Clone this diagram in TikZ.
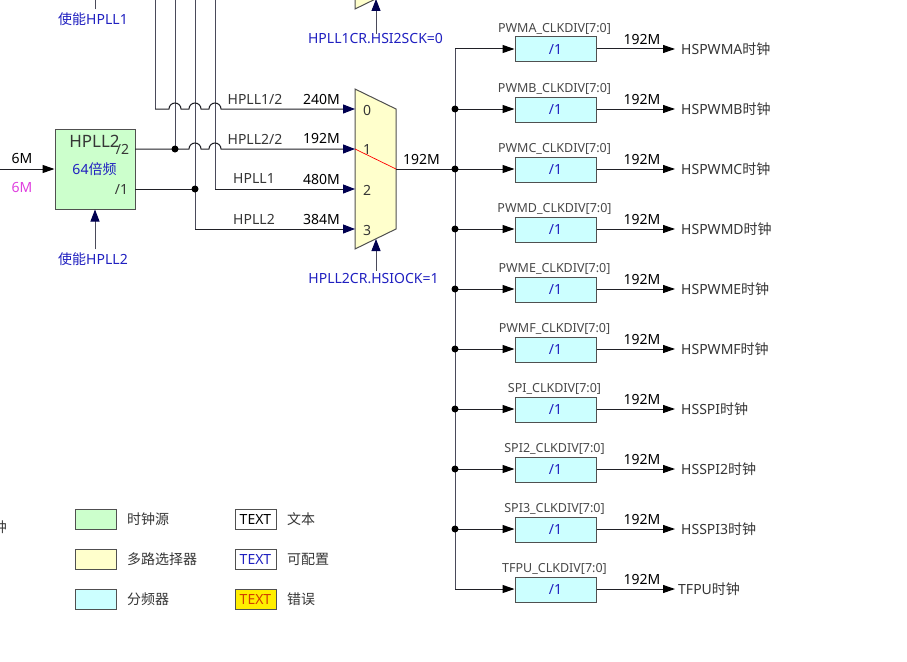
\documentclass[tikz,border=0pt]{standalone}
\usepackage{fontspec}
\setmainfont{Noto Sans}
\newfontfamily\cjk{Noto Sans CJK SC}
\newcommand{\zh}[1]{{\cjk #1}}
\usetikzlibrary{arrows.meta}
\definecolor{txtgray}{HTML}{363636}
\definecolor{lblgray}{HTML}{484848}
\definecolor{cfgblue}{HTML}{2020C0}
\definecolor{magc}{HTML}{E040E0}
\definecolor{navyc}{HTML}{000050}
\definecolor{wirec}{HTML}{202026}
\definecolor{vwirec}{HTML}{4A4A5A}
\definecolor{boxline}{HTML}{505050}
\definecolor{srcgreen}{HTML}{CCFFCC}
\definecolor{muxyellow}{HTML}{FFFFCC}
\definecolor{divcyan}{HTML}{CCFFFF}
\definecolor{erryellow}{HTML}{FFEE00}
\definecolor{errred}{HTML}{D04000}
\begin{document}
\begin{tikzpicture}[x=1pt,y=-1pt,
  wire/.style={draw=wirec,line width=1pt},
  vwire/.style={draw=vwirec,line width=1pt},
  tipN/.style={-{Triangle[length=12pt,width=9pt,color=navyc]}},
  tipK/.style={-{Triangle[length=12pt,width=8pt,color=black]}},
  txt/.style={inner sep=0pt,font=\fontsize{14}{16}\selectfont,text=txtgray},
  small/.style={inner sep=0pt,font=\fontsize{12.5}{14}\selectfont,text=lblgray},
  cfg/.style={txt,text=cfgblue},
  divbox/.style={draw=boxline,line width=1pt,fill=divcyan,minimum width=81pt,minimum height=25pt,inner sep=0pt,font=\fontsize{14}{16}\selectfont,text=cfgblue},
  legbox/.style={draw=boxline,line width=1pt,minimum width=41pt,minimum height=20pt,inner sep=0pt,font=\fontsize{14}{16}\selectfont},
  muxshape/.style={draw=boxline,line width=1pt,fill=muxyellow},
  dot/.style={fill=black}
]
\clip (0,0) rectangle (907,661);
\fill[white] (0,0) rectangle (907,661);

% ---------- top (partially visible) multiplexer ----------
\path[muxshape] (355,-151) -- (396,-131) -- (396,-11) -- (355,9) -- cycle;
\node[cfg] (sel1) at (375.5,39) {HPLL1CR.HSI2SCK=0};
\coordinate (sel1tip) at (376,-1);
\draw[vwire,tipN] (sel1.north -| sel1tip) -- (sel1tip);

% ---------- enable HPLL1 (partially visible) ----------
\node[cfg] (en1) at (93,19) {\zh{使能}HPLL1};
\coordinate (en1top) at (95,0);
\draw[vwire] (en1.north -| en1top) ++(0,-3) -- (en1top);

% ---------- HPLL2 ----------
\node[draw=boxline,line width=1pt,fill=srcgreen,minimum width=80pt,minimum height=80pt] (pll) at (95,169) {};
\node[txt,font=\fontsize{17}{19}\selectfont] (pllname) at (94.5,141) {HPLL2};
\node[txt] (pllh) at (122.5,149) {/2};
\node[cfg] (pllmul) at (94.5,169) {64\zh{倍频}};
\node[txt] (pllf) at (121.5,189) {/1};

\coordinate (in6) at (0,169);
\draw[wire,tipK] (in6) -- (pll.west);
\node[txt,text=black] (l6a) at (22,159) {6M};
\node[txt,text=magc] (l6b) at (22,188) {6M};

\node[cfg] (en2) at (93,259) {\zh{使能}HPLL2};
\draw[vwire,tipN] (pll.south |- en2.north) ++(0,-3) -- (pll.south);

% partially visible text on the left edge
\node[txt,anchor=east] (cut) at (7,527) {\zh{时钟}};

% ---------- lower multiplexer ----------
\path[muxshape] (355,89) -- (396,109) -- (396,229) -- (355,249) -- cycle;
\coordinate (m0) at (355,109);
\coordinate (m1) at (355,149);
\coordinate (m2) at (355,189);
\coordinate (m3) at (355,229);
\coordinate (mout) at (396,169);
\node[txt] (n0) at (367,110) {0};
\node[txt] (n1) at (367,150) {1};
\node[txt] (n2) at (367,190) {2};
\node[txt] (n3) at (367,230) {3};

\coordinate (o2) at (135,149);
\coordinate (o1) at (135,189);

% vertical parts (grey)
\draw[vwire] (155,0) -- (155,109);
\draw[vwire] (175,0) -- (175,149);
\draw[vwire] (195,0) -- (195,229);
\draw[vwire] (215,0) -- (215,189);
% HPLL1/2 : hops over three verticals
\draw[wire,tipN] (155,109) -- (169,109)
   arc[start angle=180,end angle=0,radius=6pt] -- (189,109)
   arc[start angle=180,end angle=0,radius=6pt] -- (209,109)
   arc[start angle=180,end angle=0,radius=6pt] -- (m0);
% HPLL2/2
\draw[wire,tipN] (o2) -- (189,149)
   arc[start angle=180,end angle=0,radius=6pt] -- (209,149)
   arc[start angle=180,end angle=0,radius=6pt] -- (m1);
% HPLL2
\draw[wire] (o1) -- (195,189);
\draw[wire,tipN] (195,229) -- (m3);
% HPLL1
\draw[wire,tipN] (215,189) -- (m2);
\fill[dot] (175,149) circle[radius=3.5pt];
\fill[dot] (195,189) circle[radius=3.5pt];

\node[txt] (t0) at (255,99) {HPLL1/2};
\node[txt] (t1) at (255,139) {HPLL2/2};
\node[txt] (t2) at (254,179) {HPLL1};
\node[txt] (t3) at (254,219) {HPLL2};
\node[txt,text=black] (f0) at (321.5,99) {240M};
\node[txt,text=black] (f1) at (321.5,139) {192M};
\node[txt,text=black] (f2) at (321.5,179) {480M};
\node[txt,text=black] (f3) at (321.5,219) {384M};

\node[cfg] (sel2) at (373.5,279) {HPLL2CR.HSIOCK=1};
\coordinate (sel2tip) at (376,239);
\draw[vwire,tipN] (sel2.north -| sel2tip) ++(0,-3) -- (sel2tip);

\draw[red,line width=0.7pt] (m1) -- (mout);
\node[txt,text=black] (fout) at (421.5,160) {192M};

% ---------- dividers ----------
\foreach \i/\lab/\out/\ox in {0/PWMA/HSPWMA/681,1/PWMB/HSPWMB/681,2/PWMC/HSPWMC/681,3/PWMD/HSPWMD/681,4/PWME/HSPWME/681,5/PWMF/HSPWMF/681,6/SPI/HSSPI/681,7/SPI2/HSSPI2/681,8/SPI3/HSSPI3/681,9/TFPU/TFPU/678}{
  \coordinate (b\i) at (455,{49+60*\i});
  \node[divbox] (d\i) at (555.5,{49.5+60*\i}) {/1};
  \node[small] (c\i) at (554.5,{28.5+60*\i}) {\lab\_CLKDIV[7:0]};
  \draw[wire,tipK] (b\i) -- (b\i -| d\i.west);
  \coordinate (e\i) at (675,{49+60*\i});
  \draw[wire,tipK] (e\i -| d\i.east) -- (e\i);
  \node[txt,text=black] (r\i) at (642,{39.5+60*\i}) {192M};
  \node[txt,anchor=west] (h\i) at (\ox,{49.5+60*\i}) {\out\zh{时钟}};
}
\draw[vwire] (b0) -- (b9);
\draw[wire] (mout) -- (b2);
\foreach \i in {1,...,8}{\fill[dot] (b\i) circle[radius=3.5pt];}

% ---------- legend ----------
\node[legbox,fill=srcgreen] (lg1) at (95.5,519) {};
\node[legbox,fill=muxyellow] (lg2) at (95.5,559) {};
\node[legbox,fill=divcyan] (lg3) at (95.5,599) {};
\node[txt,anchor=west] (lt1) at (127,519) {\zh{时钟源}};
\node[txt,anchor=west] (lt2) at (127,559) {\zh{多路选择器}};
\node[txt,anchor=west] (lt3) at (127,599) {\zh{分频器}};
\node[legbox,text=black] (lx1) at (255.5,519) {TEXT};
\node[legbox,text=cfgblue] (lx2) at (255.5,559) {TEXT};
\node[legbox,fill=erryellow,text=errred] (lx3) at (255.5,599) {TEXT};
\node[txt,anchor=west] (ly1) at (287,519) {\zh{文本}};
\node[txt,anchor=west] (ly2) at (287,559) {\zh{可配置}};
\node[txt,anchor=west] (ly3) at (287,599) {\zh{错误}};
\end{tikzpicture}
\end{document}
